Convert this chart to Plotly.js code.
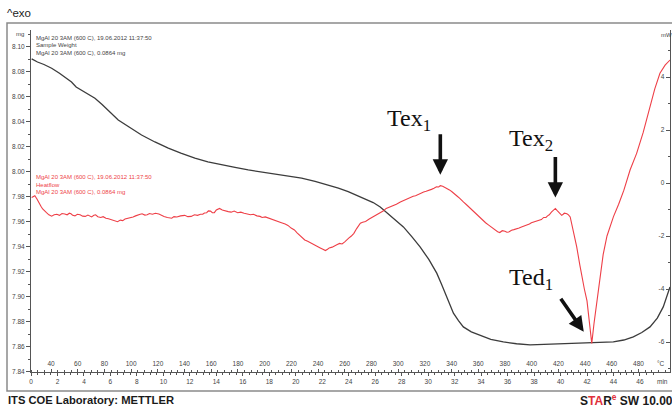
<!DOCTYPE html>
<html>
<head>
<meta charset="utf-8">
<script src="https://cdn.plot.ly/plotly-3.0.1.min.js"></script>
<style>
  html, body { margin: 0; padding: 0; background: #ffffff; }
  #chart { width: 672px; height: 409px; }
</style>
</head>
<body>
<div id="chart"></div>
<script>
// TGA sample weight (mg) against time (min)
const weightMin = [0.05, 0.49, 0.98, 1.56, 2.15, 2.63, 3.06, 3.41, 3.71, 4.29, 4.83, 5.37, 5.95, 6.59, 7.41, 8.35, 9.36, 10.37, 11.32, 12.38, 13.36, 14.39, 15.41, 16.41, 17.46, 18.44, 19.41, 20.44, 21.46, 22.44, 23.22, 23.96, 24.68, 25.36, 25.85, 26.38, 26.92, 27.51, 28.13, 28.78, 29.39, 30.05, 30.65, 31.02, 31.41, 31.91, 32.29, 32.66, 33.26, 33.93, 34.73, 35.68, 36.68, 37.70, 38.82, 39.97, 41.07, 42.23, 43.12, 43.99, 44.78, 45.50, 46.14, 46.76, 47.31, 47.76, 48.27];
const weightMg = [8.0905, 8.088, 8.086, 8.083, 8.079, 8.075, 8.072, 8.068, 8.066, 8.062, 8.059, 8.054, 8.048, 8.0416, 8.036, 8.0296, 8.024, 8.019, 8.015, 8.011, 8.008, 8.0056, 8.0036, 8.0016, 8.0000, 7.9984, 7.9968, 7.995, 7.9925, 7.9896, 7.987, 7.9842, 7.981, 7.978, 7.9755, 7.972, 7.967, 7.962, 7.956, 7.948, 7.940, 7.930, 7.919, 7.910, 7.900, 7.887, 7.881, 7.876, 7.872, 7.869, 7.866, 7.864, 7.8625, 7.8616, 7.862, 7.8624, 7.8627, 7.863, 7.8634, 7.864, 7.8655, 7.868, 7.8715, 7.876, 7.883, 7.892, 7.908];

// DSC heat flow (mW) against time (min)
const heatMin = [0.05, 0.29, 0.45, 0.59, 0.75, 0.88, 1.05, 1.17, 1.35, 1.56, 1.75, 1.95, 2.15, 2.34, 2.55, 2.73, 2.90, 3.02, 3.15, 3.32, 3.50, 3.71, 3.90, 4.10, 4.30, 4.45, 4.58, 4.75, 4.88, 5.05, 5.27, 5.45, 5.66, 5.85, 6.05, 6.25, 6.54, 6.75, 6.93, 7.10, 7.32, 7.50, 7.71, 7.90, 8.10, 8.25, 8.39, 8.60, 8.78, 8.95, 9.17, 9.40, 9.66, 9.85, 10.05, 10.30, 10.63, 10.80, 11.02, 11.30, 11.61, 11.85, 12.10, 12.35, 12.58, 12.80, 12.97, 13.10, 13.27, 13.40, 13.56, 13.70, 13.85, 14.00, 14.24, 14.45, 14.63, 14.90, 15.12, 15.35, 15.61, 15.85, 16.10, 16.35, 16.58, 16.80, 17.07, 17.30, 17.46, 17.70, 17.95, 18.20, 18.44, 18.70, 18.92, 19.20, 19.41, 19.65, 19.90, 20.10, 20.29, 20.50, 20.68, 20.90, 21.07, 21.30, 21.46, 21.65, 21.85, 22.05, 22.24, 22.40, 22.53, 22.75, 22.92, 23.10, 23.31, 23.50, 23.70, 23.85, 24.00, 24.20, 24.39, 24.60, 24.88, 25.05, 25.27, 25.55, 25.85, 26.10, 26.34, 26.60, 26.83, 27.05, 27.31, 27.60, 27.90, 28.15, 28.39, 28.60, 28.87, 29.05, 29.27, 29.45, 29.66, 29.85, 30.05, 30.25, 30.44, 30.63, 30.80, 30.92, 31.10, 31.22, 31.40, 31.61, 31.80, 32.00, 32.20, 32.39, 32.55, 32.68, 32.90, 33.17, 33.35, 33.56, 33.75, 33.95, 34.15, 34.34, 34.55, 34.73, 34.90, 35.12, 35.25, 35.41, 35.60, 35.80, 35.95, 36.09, 36.30, 36.48, 36.70, 36.87, 37.05, 37.26, 37.45, 37.65, 37.80, 37.95, 38.15, 38.34, 38.55, 38.73, 38.90, 39.02, 39.15, 39.31, 39.45, 39.61, 39.75, 39.90, 40.09, 40.20, 40.29, 40.48, 40.60, 40.73, 40.97, 41.22, 41.46, 41.61, 41.80, 42.00, 42.19, 42.36, 42.53, 42.73, 42.92, 43.22, 43.51, 44.00, 44.39, 44.78, 45.26, 45.75, 46.24, 46.73, 47.12, 47.51, 47.90, 48.27];
const heatMw = [-0.55, -0.48, -0.60, -0.75, -0.88, -0.98, -1.08, -1.12, -1.20, -1.25, -1.20, -1.18, -1.22, -1.15, -1.17, -1.20, -1.14, -1.16, -1.22, -1.24, -1.18, -1.20, -1.25, -1.26, -1.21, -1.24, -1.28, -1.22, -1.20, -1.27, -1.30, -1.27, -1.33, -1.35, -1.38, -1.42, -1.46, -1.40, -1.42, -1.36, -1.34, -1.30, -1.28, -1.24, -1.22, -1.18, -1.16, -1.21, -1.20, -1.15, -1.18, -1.14, -1.17, -1.22, -1.26, -1.30, -1.33, -1.27, -1.28, -1.24, -1.22, -1.27, -1.26, -1.20, -1.22, -1.18, -1.18, -1.13, -1.12, -1.05, -1.06, -1.12, -1.12, -1.02, -0.96, -1.02, -1.05, -1.08, -1.10, -1.06, -1.12, -1.10, -1.14, -1.16, -1.20, -1.18, -1.24, -1.26, -1.30, -1.28, -1.32, -1.38, -1.42, -1.45, -1.50, -1.55, -1.60, -1.70, -1.77, -1.88, -1.98, -2.08, -2.15, -2.20, -2.25, -2.30, -2.34, -2.40, -2.45, -2.50, -2.55, -2.50, -2.45, -2.42, -2.36, -2.33, -2.28, -2.30, -2.22, -2.14, -2.08, -2.00, -1.90, -1.72, -1.52, -1.48, -1.45, -1.36, -1.27, -1.22, -1.12, -1.06, -0.96, -0.92, -0.85, -0.80, -0.72, -0.66, -0.60, -0.57, -0.50, -0.48, -0.42, -0.40, -0.34, -0.31, -0.26, -0.24, -0.20, -0.14, -0.15, -0.10, -0.12, -0.15, -0.20, -0.26, -0.33, -0.40, -0.50, -0.58, -0.64, -0.72, -0.82, -0.95, -1.04, -1.15, -1.22, -1.33, -1.42, -1.50, -1.58, -1.65, -1.72, -1.78, -1.84, -1.87, -1.80, -1.82, -1.86, -1.85, -1.78, -1.76, -1.74, -1.70, -1.66, -1.62, -1.60, -1.55, -1.50, -1.48, -1.45, -1.40, -1.38, -1.30, -1.30, -1.24, -1.20, -1.10, -1.02, -0.96, -1.04, -1.12, -1.22, -1.18, -1.14, -1.16, -1.20, -1.28, -1.80, -2.40, -3.10, -3.54, -4.00, -4.45, -5.20, -6.05, -5.30, -4.60, -3.80, -2.70, -2.00, -1.27, -0.80, -0.28, 0.50, 1.12, 1.90, 2.85, 3.55, 4.14, 4.45, 4.64];

// Tick labels
const minuteTicks = [0, 2, 4, 6, 8, 10, 12, 14, 16, 18, 20, 22, 24, 26, 28, 30, 32, 34, 36, 38, 40, 42, 44, 46];
const tempTicks = [40, 60, 80, 100, 120, 140, 160, 180, 200, 220, 240, 260, 280, 300, 320, 340, 360, 380, 400, 420, 440, 460, 480];
const mgTicks = [7.84, 7.86, 7.88, 7.90, 7.92, 7.94, 7.96, 7.98, 8.00, 8.02, 8.04, 8.06, 8.08, 8.10];
const mwTicks = [-6, -4, -2, 0, 2, 4];

// Curve captions
const weightCaption = ['MgAl 20 3AM (600 C), 19.06.2012 11:37:50', 'Sample Weight', 'MgAl 20 3AM (600 C), 0.0864 mg'];
const heatCaption = ['MgAl 20 3AM (600 C), 19.06.2012 11:37:50', 'Heatflow', 'MgAl 20 3AM (600 C), 0.0864 mg'];

// Marked events: label, time (min) and heat flow (mW) of the feature
const eventLabels = ['Tex<sub>1</sub>', 'Tex<sub>2</sub>', 'Ted<sub>1</sub>'];
const eventMin = [30.92, 39.61, 42.36];
const eventMw = [-0.10, -0.96, -6.05];

const RED = '#ee3f47';
const INK = '#444444';
const SANS = 'Liberation Sans, Arial, sans-serif';
const SERIF = 'Liberation Serif, Times New Roman, serif';

const tickFont = { family: SANS, size: 6.5, color: INK };

const traces = [
  { x: weightMin, y: weightMg, xaxis: 'x', yaxis: 'y', mode: 'lines',
    line: { color: '#3c3c3c', width: 1.3 }, hoverinfo: 'skip' },
  { x: heatMin, y: heatMw, xaxis: 'x', yaxis: 'y2', mode: 'lines',
    line: { color: RED, width: 1.1 }, hoverinfo: 'skip' },
  // carrier for the temperature scale (draws nothing)
  { x: tempTicks, y: tempTicks.map(() => null), xaxis: 'x2', yaxis: 'y', mode: 'lines',
    hoverinfo: 'skip' }
];

// Plot-area geometry used to place the free-floating texts (paper units)
const W = 672, H = 409, ML = 31, MR = 2, MT = 30, MB = 37;
const PW = W - ML - MR, PH = H - MT - MB;
const px = v => (v - ML) / PW;
const py = v => (H - MB - v) / PH;

const annotations = [];
function txt(text, x, y, opts) {
  annotations.push(Object.assign({
    text: text, xref: 'paper', yref: 'paper', x: px(x), y: py(y),
    xanchor: 'left', yanchor: 'middle', showarrow: false,
    font: { family: SANS, size: 6, color: INK }
  }, opts || {}));
}

txt('^exo', 5, 13, { font: { family: SANS, size: 11.5, color: '#222' } });
txt('mg', 20, 34, { xanchor: 'center' });
txt('mW', 666, 35, { xanchor: 'center' });
txt('min', 662, 381, { xanchor: 'center', font: tickFont });
txt('°C', 661, 363, { xanchor: 'center', font: tickFont });

weightCaption.forEach((s, i) => txt(s, 34, 38 + i * 7.5, { font: { family: SANS, size: 6, color: INK } }));
heatCaption.forEach((s, i) => txt(s, 34, 177 + i * 7.5, { font: { family: SANS, size: 6, color: RED } }));

txt('ITS COE Laboratory: METTLER', 6, 400, { font: { family: SANS, size: 11.2, color: '#1a1a1a', weight: 'bold' } });
txt('S<span style="color:#e0303a">TA</span>R<sup><span style="color:#e0303a">e</span></sup> SW 10.00', 578, 400,
    { font: { family: SANS, size: 12, color: '#1a1a1a', weight: 'bold' } });

// Event labels
const labelPos = [[385, 120], [507, 140], [507, 279]];
eventLabels.forEach((s, i) => txt(s, labelPos[i][0], labelPos[i][1],
  { font: { family: SERIF, size: 24, color: '#111' } }));

// Arrows pointing at each event on the heat-flow curve
const arrowTail = [[0, -53], [0, -53], [-32, -46]];
const arrowStand = [11, 11, 14];
eventMin.forEach((m, i) => annotations.push({
  xref: 'x', yref: 'y2', x: m, y: eventMw[i], text: '', showarrow: true,
  axref: 'pixel', ayref: 'pixel', ax: arrowTail[i][0], ay: arrowTail[i][1],
  arrowhead: 2, arrowsize: 0.85, arrowwidth: 3.6, arrowcolor: '#111', standoff: arrowStand[i]
}));

const layout = {
  width: W, height: H,
  margin: { l: ML, r: MR, t: MT, b: MB, pad: 0 },
  paper_bgcolor: '#ffffff', plot_bgcolor: '#ffffff',
  showlegend: false, hovermode: false,
  xaxis: {
    range: [0, 48.27], tickmode: 'array', tickvals: minuteTicks,
    ticks: 'outside', ticklen: 3, tickwidth: 1, tickcolor: '#555',
    showline: true, linecolor: '#555', linewidth: 1,
    showgrid: false, zeroline: false, tickfont: tickFont,
    minor: { tickmode: 'linear', tick0: 0, dtick: 0.5, ticks: 'outside', ticklen: 2, tickcolor: '#555', showgrid: false },
    anchor: 'y'
  },
  xaxis2: {
    overlaying: 'x', side: 'top', anchor: 'free', position: 0,
    range: [25, 503.6], tickmode: 'array', tickvals: tempTicks,
    ticks: 'outside', ticklen: 3, tickwidth: 1, tickcolor: '#555',
    showline: false, showgrid: false, zeroline: false, tickfont: tickFont,
    minor: { tickmode: 'linear', tick0: 0, dtick: 5, ticks: 'outside', ticklen: 2, tickcolor: '#555', showgrid: false }
  },
  yaxis: {
    range: [7.8399, 8.1136], tickmode: 'array', tickvals: mgTicks,
    ticktext: mgTicks.map(v => v.toFixed(2)),
    ticks: 'outside', ticklen: 4, tickwidth: 1, tickcolor: '#555',
    showline: true, linecolor: '#555', linewidth: 1,
    showgrid: false, zeroline: false, tickfont: tickFont,
    minor: { tickmode: 'linear', tick0: 7.84, dtick: 0.01, ticks: 'outside', ticklen: 2, tickcolor: '#555', showgrid: false },
    anchor: 'x'
  },
  yaxis2: {
    overlaying: 'y', side: 'right', anchor: 'x',
    range: [-7.132, 5.774], tickmode: 'array', tickvals: mwTicks,
    ticktext: mwTicks.map(v => String(v)),
    ticks: 'inside', ticklabelposition: 'inside', ticklen: 4, tickwidth: 1, tickcolor: '#555',
    showline: true, linecolor: '#555', linewidth: 1,
    showgrid: false, zeroline: false, tickfont: tickFont,
    minor: { tickmode: 'linear', tick0: 0, dtick: 1, ticks: 'inside', ticklen: 2, tickcolor: '#555', showgrid: false }
  },
  shapes: [{
    type: 'rect', xref: 'paper', yref: 'paper', layer: 'below',
    x0: px(7), x1: px(690), y0: py(391), y1: py(23),
    line: { color: '#8a8a8a', width: 1.5 }
  }],
  annotations: annotations
};

Plotly.newPlot('chart', traces, layout, { staticPlot: true, displayModeBar: false });
</script>
</body>
</html>
